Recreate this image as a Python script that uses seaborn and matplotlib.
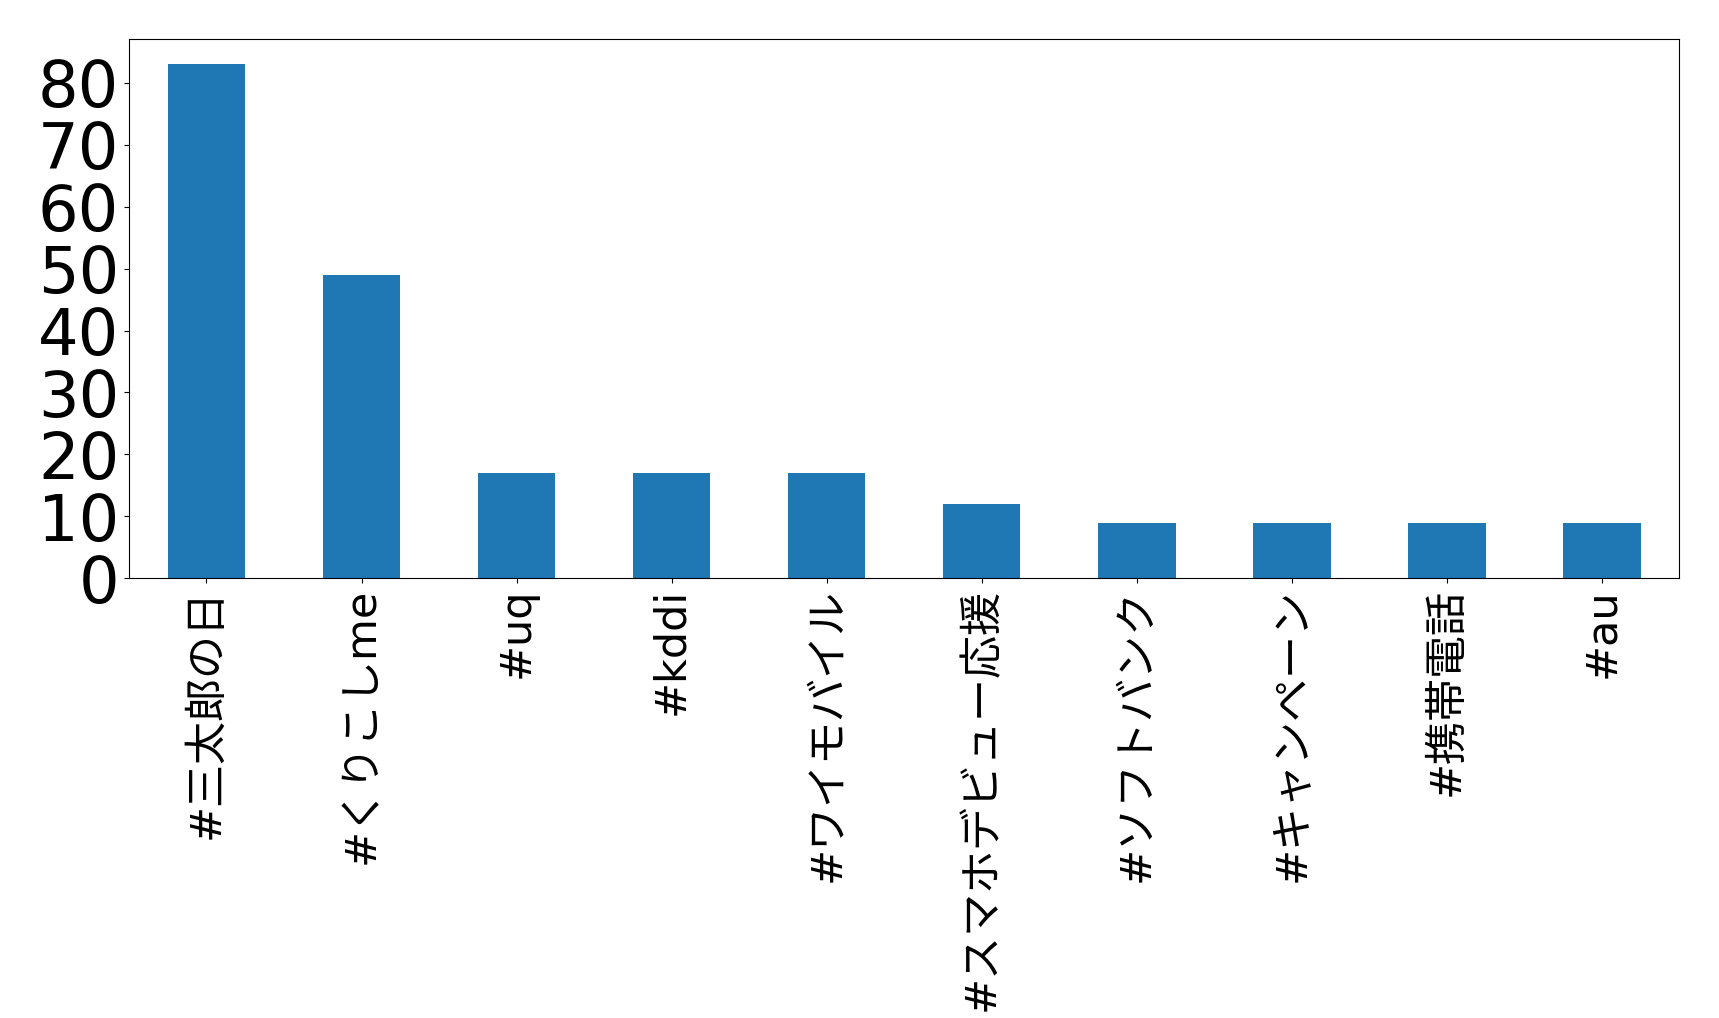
import matplotlib
matplotlib.use("Agg")
import matplotlib.pyplot as plt
from matplotlib.ticker import MultipleLocator
import seaborn as sns

# Latin in DejaVu Sans, Japanese falls through to Noto Sans CJK JP
plt.rcParams["font.family"] = ["DejaVu Sans", "Noto Sans CJK JP"]

hashtags = [
    "#三太郎の日",
    "#くりこしme",
    "#uq",
    "#kddi",
    "#ワイモバイル",
    "#スマホデビュー応援",
    "#ソフトバンク",
    "#キャンペーン",
    "#携帯電話",
    "#au",
]
counts = [83, 49, 17, 17, 17, 12, 9, 9, 9, 9]

fig, ax = plt.subplots(figsize=(17.19, 10.18), dpi=100)
sns.barplot(x=hashtags, y=counts, color="#1f77b4", saturation=1, width=0.5, ax=ax)

ax.set_xlim(-0.5, len(hashtags) - 0.5)
ax.set_ylim(0, max(counts) * 1.05)
ax.yaxis.set_major_locator(MultipleLocator(10))
ax.tick_params(axis="y", labelsize=46)
# the kana/kanji are a full em wide, so the x labels need a smaller size to fit
ax.tick_params(axis="x", labelsize=31, labelrotation=90)
ax.set_xlabel("")
ax.set_ylabel("")

fig.subplots_adjust(left=0.075, right=0.977, bottom=0.432, top=0.962)
fig.savefig("out.png", dpi=100)
